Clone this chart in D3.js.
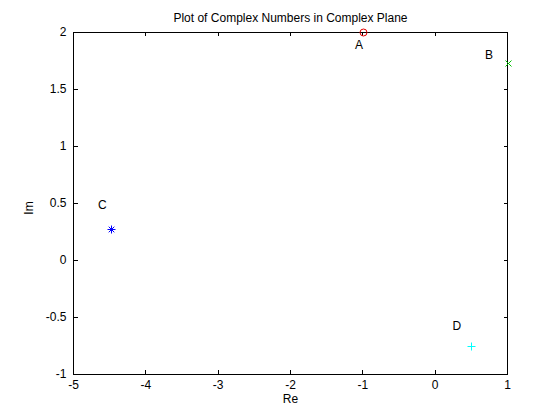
<!DOCTYPE html>
<html><head><meta charset="utf-8">
<script src="https://cdn.jsdelivr.net/npm/d3@7"></script>
<style>body{margin:0;background:#fff}svg{display:block}text{font-family:"Liberation Sans",Arial,sans-serif}</style>
</head><body>
<script>
const names = ["A","B","C","D"];
const reVals = [-1, 1, -4.48, 0.5];
const imVals = [2, 1.732, 0.27, -0.75];
const labelRe = [-1.11, 0.69, -4.66, 0.24];
const labelIm = [1.89, 1.80, 0.48, -0.58];
const markers = ["o","x","*","+"];
const colors = ["#e00000","#00c000","#0000ff","#00ffff"];
const xTicks = [-5,-4,-3,-2,-1,0,1];
const yTicks = [-1,-0.5,0,0.5,1,1.5,2];

const W=560,H=420, L=73.5, R=507.5, T=32, B=374;
const svg=d3.select("body").append("svg").attr("width",W).attr("height",H);
const x=d3.scaleLinear().domain([-5,1]).range([L,R]);
const y=d3.scaleLinear().domain([-1,2]).range([B,T]);

const fs=12;
svg.append("rect").attr("x",L).attr("y",T).attr("width",R-L).attr("height",B-T).attr("fill","#fff").attr("stroke","#000").attr("stroke-width",1).attr("shape-rendering","crispEdges");

const tl=4;
const g=svg.append("g").attr("shape-rendering","crispEdges").attr("stroke","#000");
xTicks.forEach(v=>{
  g.append("line").attr("x1",x(v)).attr("x2",x(v)).attr("y1",B).attr("y2",B-tl);
  g.append("line").attr("x1",x(v)).attr("x2",x(v)).attr("y1",T).attr("y2",T+tl);
});
yTicks.forEach(v=>{
  g.append("line").attr("x1",L).attr("x2",L+tl).attr("y1",y(v)).attr("y2",y(v));
  g.append("line").attr("x1",R).attr("x2",R-tl).attr("y1",y(v)).attr("y2",y(v));
});
svg.selectAll(".xt").data(xTicks).enter().append("text").attr("x",d=>x(d)).attr("y",B+15)
  .attr("text-anchor","middle").attr("font-size",fs).text(d=>d);
svg.selectAll(".yt").data(yTicks).enter().append("text").attr("x",L-7).attr("y",d=>y(d)+4)
  .attr("text-anchor","end").attr("font-size",fs).text(d=>d);

svg.append("text").attr("x",(L+R)/2).attr("y",403).attr("text-anchor","middle").attr("font-size",fs).text("Re");
svg.append("text").attr("transform","translate(33,208) rotate(-90)").attr("text-anchor","middle").attr("font-size",fs).text("Im");
svg.append("text").attr("x",(L+R)/2).attr("y",22).attr("text-anchor","middle").attr("font-size",fs).text("Plot of Complex Numbers in Complex Plane");

const m=svg.append("g").attr("fill","none").attr("stroke-width",1);
names.forEach((n,i)=>{
  const cx=Math.round(x(reVals[i]))+0.5, cy=Math.round(y(imVals[i]))+0.5, c=colors[i], s=4;
  if(markers[i]==="o"){
    m.append("circle").attr("cx",cx).attr("cy",cy).attr("r",3.5).attr("stroke",c);
  } else if(markers[i]==="x"){
    const d=3;
    m.append("path").attr("d",`M${cx-d},${cy-d}L${cx+d},${cy+d}M${cx-d},${cy+d}L${cx+d},${cy-d}`).attr("stroke",c);
  } else if(markers[i]==="+"){
    m.append("path").attr("d",`M${cx-s},${cy}L${cx+s},${cy}M${cx},${cy-s}L${cx},${cy+s}`).attr("stroke",c);
  } else {
    const d=2.8;
    m.append("path").attr("d",`M${cx-s},${cy}L${cx+s},${cy}M${cx},${cy-s}L${cx},${cy+s}M${cx-d},${cy-d}L${cx+d},${cy+d}M${cx-d},${cy+d}L${cx+d},${cy-d}`).attr("stroke",c);
  }
  svg.append("text").attr("x",x(labelRe[i])).attr("y",y(labelIm[i])+4).attr("font-size",fs).text(n);
});
</script>
</body></html>
